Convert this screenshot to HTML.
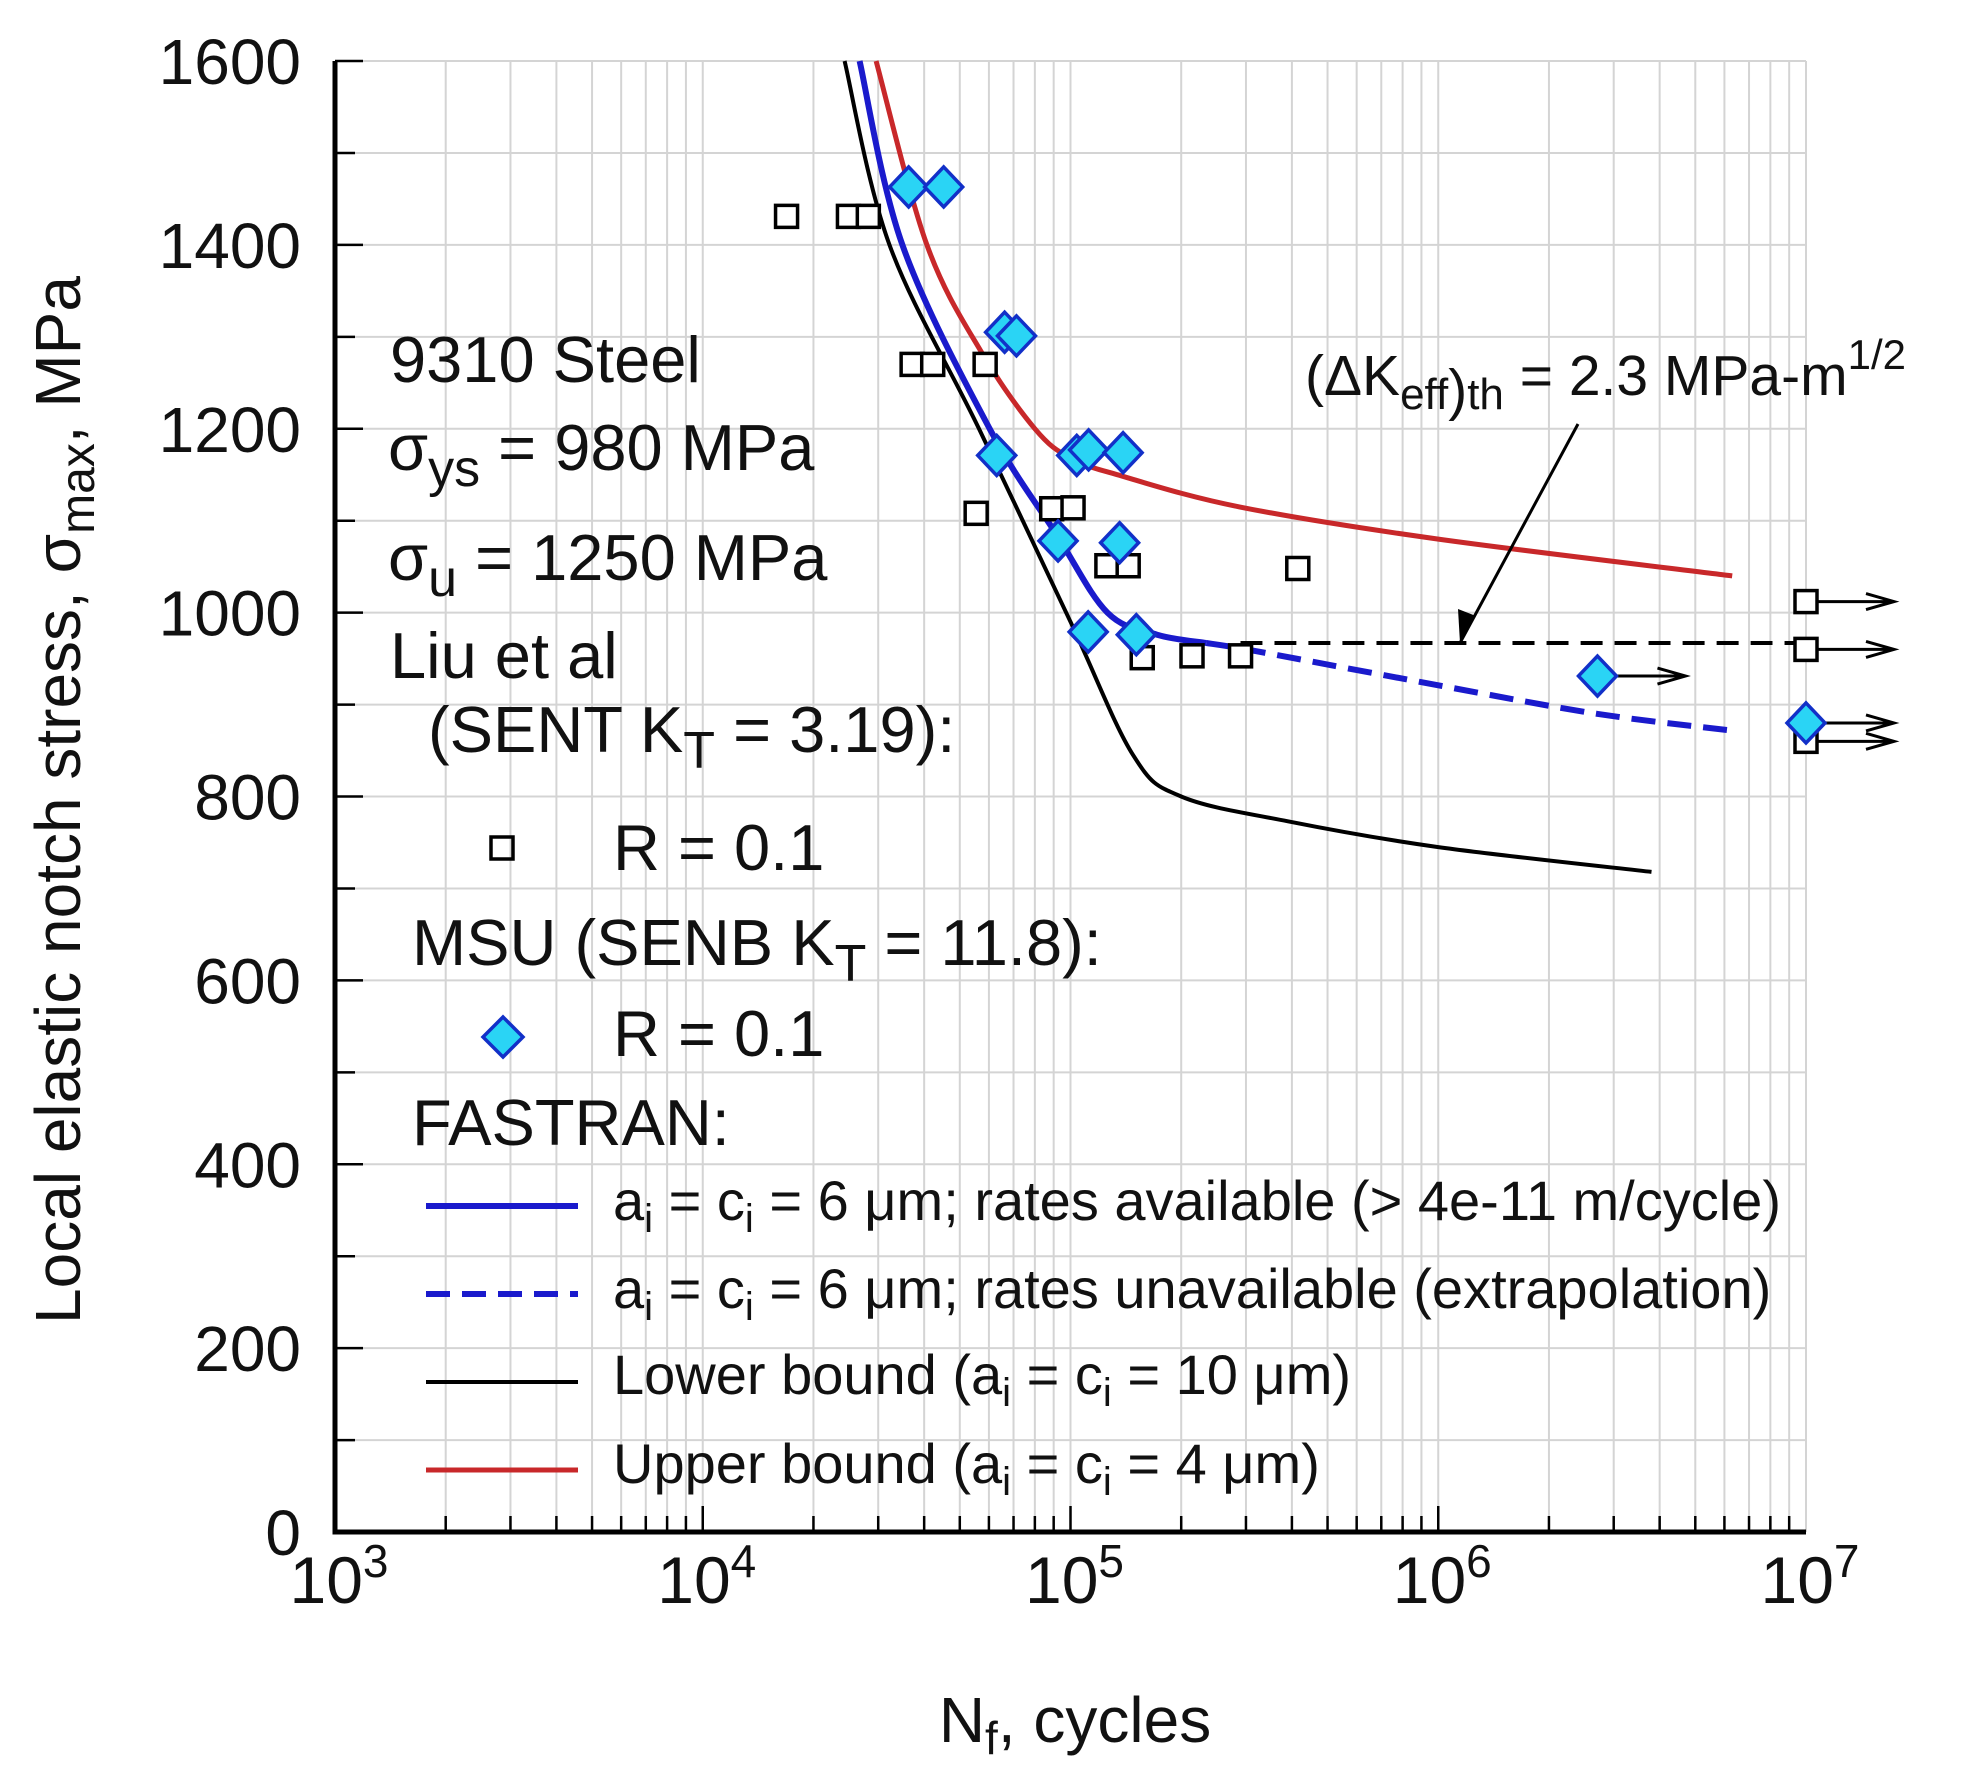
<!DOCTYPE html>
<html><head><meta charset="utf-8"><style>
html,body{margin:0;padding:0;background:#fff}
svg{display:block}
text{font-family:"Liberation Sans",Arial,sans-serif;fill:#111}
</style></head><body>
<svg id="chart" width="1968" height="1781" viewBox="0 0 1968 1781" xmlns="http://www.w3.org/2000/svg">
<g id="grid"></g>
<g id="marks"></g>
<g id="axes"></g>
<g id="labels" font-size="65">
<text transform="translate(80,800) rotate(-90)" text-anchor="middle" font-size="64">Local elastic notch stress, σ<tspan dy="14" font-size="48">max</tspan><tspan dy="-14">, MPa</tspan></text>
<text x="1075" y="1742" text-anchor="middle" font-size="64">N<tspan dy="12" font-size="46">f</tspan><tspan dy="-12">, cycles</tspan></text>
<text x="390" y="382">9310 Steel</text>
<text x="388" y="470">σ<tspan dy="16" font-size="52">ys</tspan><tspan dy="-16"> = 980 MPa</tspan></text>
<text x="388" y="580">σ<tspan dy="16" font-size="52">u</tspan><tspan dy="-16"> = 1250 MPa</tspan></text>
<text x="390" y="678">Liu et al</text>
<text x="428" y="752">(SENT  K<tspan dy="16" font-size="52">T</tspan><tspan dy="-16"> = 3.19):</tspan></text>
<rect x="491" y="837" width="22" height="22" fill="none" stroke="#000" stroke-width="3.5"/>
<text x="613" y="870">R = 0.1</text>
<text x="412" y="965">MSU (SENB  K<tspan dy="16" font-size="52">T</tspan><tspan dy="-16"> = 11.8):</tspan></text>
<polygon points="503,1017 523,1037 503,1057 483,1037" fill="#2ad4f5" stroke="#1230c8" stroke-width="3.5"/>
<text x="613" y="1056">R = 0.1</text>
<text x="412" y="1145">FASTRAN:</text>
<g font-size="56">
<line x1="426" y1="1206" x2="578" y2="1206" stroke="#1a1acc" stroke-width="6"/>
<text x="613" y="1220">a<tspan dy="12" font-size="40">i</tspan><tspan dy="-12"> = c</tspan><tspan dy="12" font-size="40">i</tspan><tspan dy="-12"> = 6 μm; rates available (&gt; 4e-11 m/cycle)</tspan></text>
<line x1="426" y1="1294" x2="578" y2="1294" stroke="#1a1acc" stroke-width="6" stroke-dasharray="24,12"/>
<text x="613" y="1308">a<tspan dy="12" font-size="40">i</tspan><tspan dy="-12"> = c</tspan><tspan dy="12" font-size="40">i</tspan><tspan dy="-12"> = 6 μm; rates unavailable (extrapolation)</tspan></text>
<line x1="426" y1="1382" x2="578" y2="1382" stroke="#000" stroke-width="4"/>
<text x="613" y="1394">Lower bound (a<tspan dy="12" font-size="40">i</tspan><tspan dy="-12"> = c</tspan><tspan dy="12" font-size="40">i</tspan><tspan dy="-12"> = 10 μm)</tspan></text>
<line x1="426" y1="1470" x2="578" y2="1470" stroke="#c8282a" stroke-width="5"/>
<text x="613" y="1483">Upper bound (a<tspan dy="12" font-size="40">i</tspan><tspan dy="-12"> = c</tspan><tspan dy="12" font-size="40">i</tspan><tspan dy="-12"> = 4 μm)</tspan></text>
</g>
<text x="1305" y="395" font-size="57">(ΔK<tspan dy="14" font-size="44">eff</tspan><tspan dy="0">)</tspan><tspan font-size="44">th</tspan><tspan dy="-14"> = 2.3 MPa-m</tspan><tspan dy="-26" font-size="42">1/2</tspan></text>
</g>
</svg>
<script>
const xTicks=[1e3,1e4,1e5,1e6,1e7];
const xTickExps=["3","4","5","6","7"];
const yTicks=[0,200,400,600,800,1000,1200,1400,1600];
const lowerN=[24300,32200,56400,100000,148000,200000,390000,1000000,3800000];
const lowerS=[1600,1400,1200,990,845,800,773,745,718];
const bluN=[26700,34900,60300,91600,126000,172000,234000];
const bluS=[1600,1400,1200,1085,1000,976,967];
const bluDashN=[234000,320000,1000000,2700000,6500000];
const bluDashS=[967,958,921,890,871];
const redN=[29600,40700,57300,80000,100000,134000,288000,1000000,6300000];
const redS=[1600,1400,1283,1200,1168,1150,1115,1080,1040];
const threshN=[290000,1e7];
const threshS=[967,967];
const sqN=[16900,24900,28200,37100,42200,58600,55400,88900,101600,125600,143500,415000,156700,214000,290000,1e7,1e7,1e7];
const sqS=[1431,1431,1431,1270,1270,1270,1108,1113,1114,1051,1051,1048,951,953,953,1012,960,860];
const sqRunout=[0,0,0,0,0,0,0,0,0,0,0,0,0,0,0,1,1,1];
const diaN=[36300,45200,66200,71300,63000,104000,112000,139000,92500,136000,111700,151000,2710000,1e7];
const diaS=[1463,1463,1305,1301,1171,1171,1177,1174,1078,1076,979,976,931,880];
const diaRunout=[0,0,0,0,0,0,0,0,0,0,0,0,1,1];

const L=335,R=1806,T=61,B=1532;
const NS="http://www.w3.org/2000/svg";
function xs(n){return L+(Math.log10(n)-3)/4*(R-L);}
function ys(v){return B-v/1600*(B-T);}
function mk(tag,attrs,parent){const e=document.createElementNS(NS,tag);for(const k in attrs)e.setAttribute(k,attrs[k]);parent.appendChild(e);return e;}
const grid=document.getElementById('grid'),marks=document.getElementById('marks'),axes=document.getElementById('axes');
for(let d=3;d<7;d++)for(let m=1;m<=9;m++){const n=m*Math.pow(10,d);if(m===1&&d===3)continue;const x=xs(n);
 const g=mk('line',{x1:x,y1:T,x2:x,y2:B,stroke:'#d4d4d4','stroke-width':2},grid);
 
 
 const t=mk('line',{x1:x,y1:B,x2:x,y2:B-(m===1?26:16),stroke:'#000','stroke-width':2.5},axes);
 
 }
{const x=xs(1e7);const g=mk('line',{x1:x,y1:T,x2:x,y2:B,stroke:'#d4d4d4','stroke-width':2},grid);
 
 }
for(let v=100;v<=1600;v+=100){const y=ys(v);
 const g=mk('line',{x1:L,y1:y,x2:R,y2:y,stroke:'#d4d4d4','stroke-width':2},grid);
 
 
 const t=mk('line',{x1:L,y1:y,x2:L+(v%200===0?28:20),y2:y,stroke:'#000','stroke-width':2.5},axes);
 
 }
const ax=mk('path',{d:`M${L},${T} L${L},${B} L${R},${B}`,fill:'none',stroke:'#000','stroke-width':5},axes);


yTicks.forEach(v=>{const t=mk('text',{x:301,y:ys(v)+23,'text-anchor':'end','font-size':64},axes);t.textContent=v;
 
 });
xTicks.forEach((n,i)=>{const t=mk('text',{x:xs(n)+4,y:1603,'text-anchor':'middle','font-size':66},axes);
 
 
 t.innerHTML='10<tspan dy="-26" font-size="46">'+xTickExps[i]+'</tspan>';});
function poly(N,S,color,w,dash,name){
 const P=N.map((n,i)=>[xs(n),ys(S[i])]);
 let d='M'+P[0][0].toFixed(1)+','+P[0][1].toFixed(1);
 for(let i=0;i<P.length-1;i++){const p0=P[Math.max(0,i-1)],p1=P[i],p2=P[i+1],p3=P[Math.min(P.length-1,i+2)];
  const c1=[p1[0]+(p2[0]-p0[0])/6,p1[1]+(p2[1]-p0[1])/6],c2=[p2[0]-(p3[0]-p1[0])/6,p2[1]-(p3[1]-p1[1])/6];
  d+=`C${c1[0].toFixed(1)},${c1[1].toFixed(1)} ${c2[0].toFixed(1)},${c2[1].toFixed(1)} ${p2[0].toFixed(1)},${p2[1].toFixed(1)}`;}
 const p=mk('path',{d:d,fill:'none',stroke:color,'stroke-width':w,'stroke-linejoin':'round'},marks);if(dash)p.setAttribute('stroke-dasharray',dash);
 
 }
poly(threshN,threshS,'#000',4,'22,12','threshold-line');
poly(lowerN,lowerS,'#000',4,null,'lower-bound-curve');
poly(redN,redS,'#c8282a',5,null,'upper-bound-curve');
poly(bluN,bluS,'#1a1acc',6,null,'fastran-curve');
poly(bluDashN,bluDashS,'#1a1acc',6,'24,12','fastran-extrapolated-curve');
const ya=ys(967);
const ar=mk('path',{d:`M1578,424 L1460,${ya}`,stroke:'#000','stroke-width':3,fill:'none'},marks);


const ah=mk('polygon',{points:`1460,${ya} 1458,${ya-34} 1476,${ya-27}`,fill:'#000'},marks);


function runArrow(x,y){const a=mk('path',{d:`M${x+12},${y} L${x+86},${y} M${x+60},${y-8} L${x+88},${y} L${x+60},${y+8}`,stroke:'#000','stroke-width':3,fill:'none'},marks);
 
 }
sqN.forEach((n,i)=>{const x=xs(n),y=ys(sqS[i]);
 if(sqRunout[i])runArrow(x,y);
 const r=mk('rect',{x:x-11,y:y-11,width:22,height:22,fill:'#fff',stroke:'#000','stroke-width':3.5},marks);
 
 });
diaN.forEach((n,i)=>{const x=xs(n),y=ys(diaS[i]);
 if(diaRunout[i])runArrow(x,y);
 const p=mk('polygon',{points:`${x},${y-20} ${x+19},${y} ${x},${y+20} ${x-19},${y}`,fill:'#2ad4f5',stroke:'#1230c8','stroke-width':3.5},marks);
 
 });
</script>
</body></html>
